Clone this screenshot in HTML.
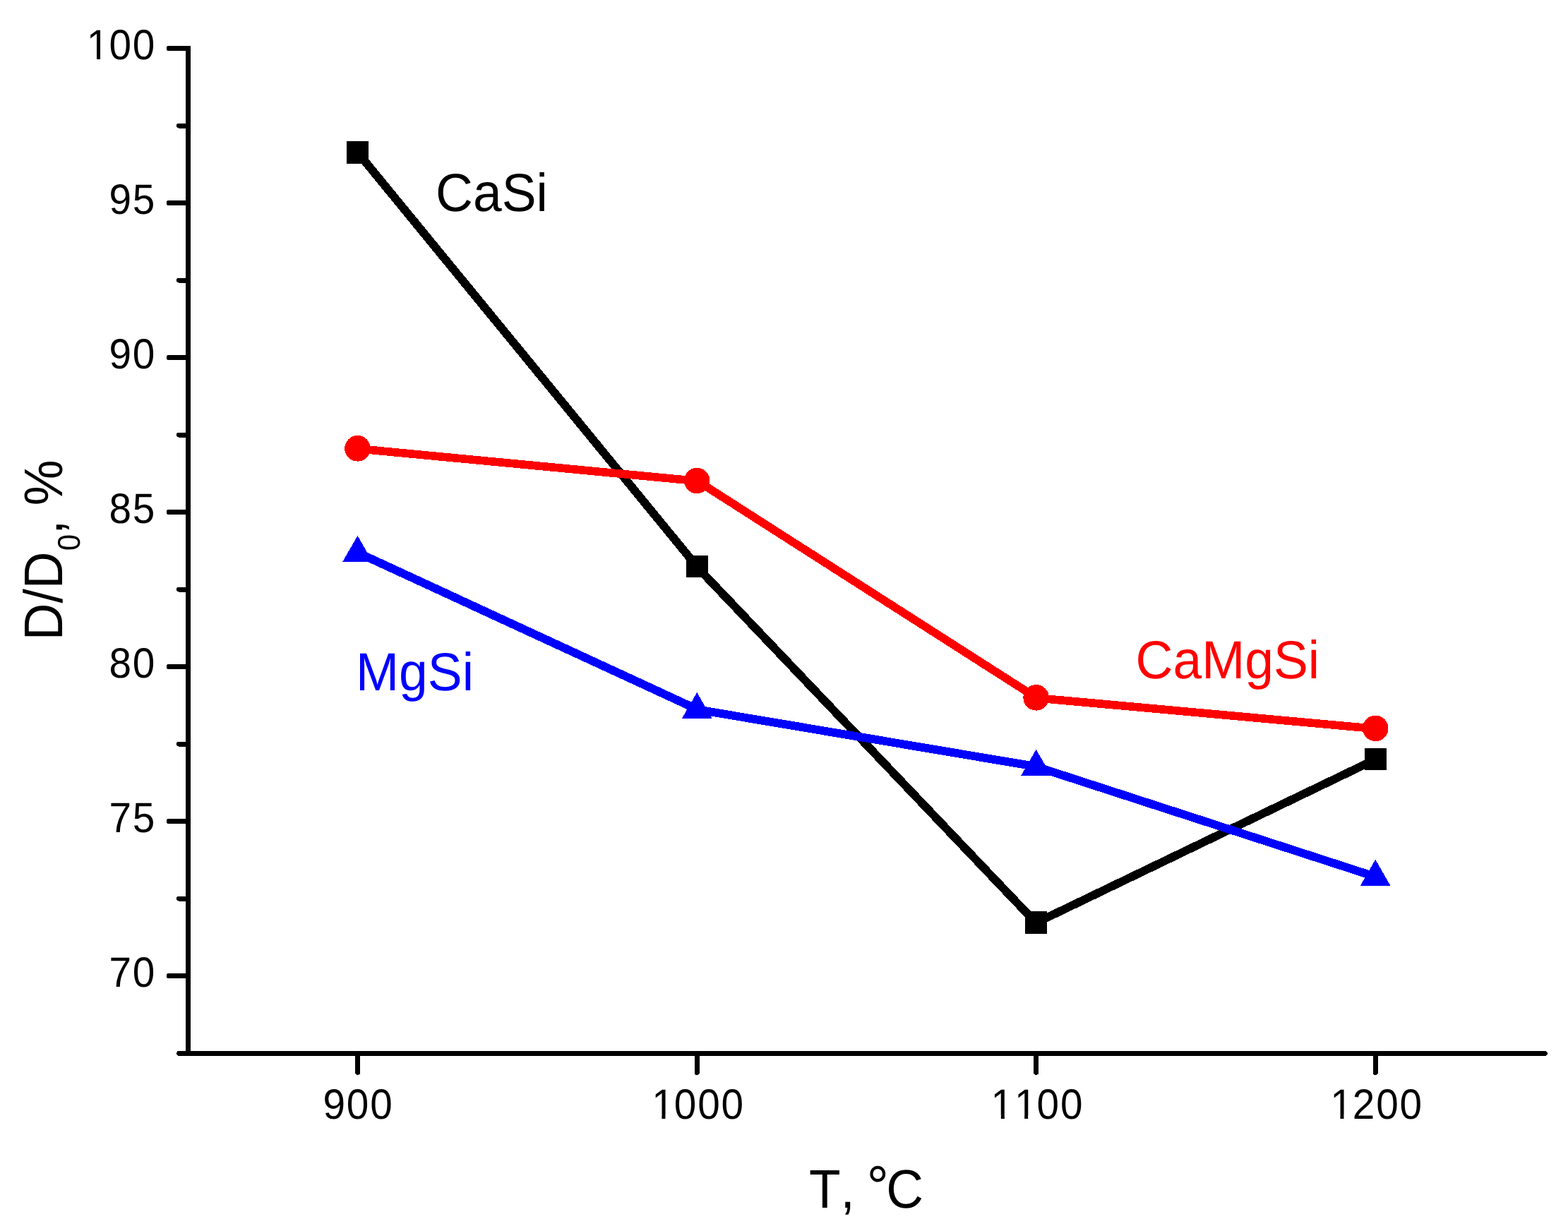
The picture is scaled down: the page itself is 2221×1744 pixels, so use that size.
<!DOCTYPE html>
<html lang="en"><head><meta charset="utf-8"><title>D/D0 vs T</title>
<style>
html,body{margin:0;padding:0;background:#fff;}
body{width:2221px;height:1744px;overflow:hidden;}
svg{display:block;}
line,polyline,rect,circle,polygon{shape-rendering:crispEdges;}
rect.m{fill:#fff;shape-rendering:geometricPrecision;}
text{font-family:"Liberation Sans",sans-serif;font-kerning:none;text-rendering:geometricPrecision;}
.tick{font-size:60px;fill:#000;}
.lab{font-size:76px;}
.ttl{font-size:77px;fill:#000;}
</style></head><body>
<svg width="2221" height="1744" viewBox="0 0 2221 1744">
<rect x="0" y="0" width="2221" height="1744" fill="#ffffff"/>
<g stroke="#000" fill="none" stroke-width="7" stroke-linecap="round">
<line x1="266.50" y1="65.10" x2="266.50" y2="1495.90" stroke-width="7" stroke-linecap="butt"/>
<line x1="253.60" y1="1492.40" x2="2188.20" y2="1492.40" stroke-width="7"/>
<line x1="239.30" y1="68.60" x2="266.50" y2="68.60"/>
<line x1="253.60" y1="178.10" x2="266.50" y2="178.10"/>
<line x1="239.30" y1="287.60" x2="266.50" y2="287.60"/>
<line x1="253.60" y1="397.10" x2="266.50" y2="397.10"/>
<line x1="239.30" y1="506.60" x2="266.50" y2="506.60"/>
<line x1="253.60" y1="616.10" x2="266.50" y2="616.10"/>
<line x1="239.30" y1="725.60" x2="266.50" y2="725.60"/>
<line x1="253.60" y1="835.10" x2="266.50" y2="835.10"/>
<line x1="239.30" y1="944.60" x2="266.50" y2="944.60"/>
<line x1="253.60" y1="1054.10" x2="266.50" y2="1054.10"/>
<line x1="239.30" y1="1163.60" x2="266.50" y2="1163.60"/>
<line x1="253.60" y1="1273.10" x2="266.50" y2="1273.10"/>
<line x1="239.30" y1="1382.60" x2="266.50" y2="1382.60"/>
<line x1="506.50" y1="1492.40" x2="506.50" y2="1519.40"/>
<line x1="987.20" y1="1492.40" x2="987.20" y2="1519.40"/>
<line x1="1467.60" y1="1492.40" x2="1467.60" y2="1519.40"/>
<line x1="1948.20" y1="1492.40" x2="1948.20" y2="1519.40"/>
</g>
<text class="tick" transform="translate(120.30 83.50) scale(0.9450 1)" x="2.63 36.17 71.41">100</text>
<rect class="m" x="126.10" y="78.42" width="10.94" height="5.88"/>
<rect class="m" x="142.05" y="78.42" width="10.50" height="5.88"/>
<text class="tick" transform="translate(153.60 302.50) scale(0.9450 1)" x="0.93 36.17">95</text>
<text class="tick" transform="translate(153.60 521.50) scale(0.9450 1)" x="0.93 36.17">90</text>
<text class="tick" transform="translate(153.60 740.50) scale(0.9450 1)" x="0.93 36.17">85</text>
<text class="tick" transform="translate(153.60 959.50) scale(0.9450 1)" x="0.93 36.17">80</text>
<text class="tick" transform="translate(153.60 1178.50) scale(0.9450 1)" x="0.93 36.17">75</text>
<text class="tick" transform="translate(153.60 1397.50) scale(0.9450 1)" x="0.93 36.17">70</text>
<text class="tick" transform="translate(456.65 1584.90) scale(0.9450 1)" x="0.93 36.17 71.41">900</text>
<text class="tick" transform="translate(920.70 1584.90) scale(0.9450 1)" x="2.63 36.17 71.41 106.65">1000</text>
<rect class="m" x="926.50" y="1579.82" width="10.94" height="5.88"/>
<rect class="m" x="942.45" y="1579.82" width="10.50" height="5.88"/>
<text class="tick" transform="translate(1401.10 1584.90) scale(0.9450 1)" x="2.63 37.87 71.41 106.65">1100</text>
<rect class="m" x="1406.90" y="1579.82" width="10.94" height="5.88"/>
<rect class="m" x="1422.85" y="1579.82" width="10.50" height="5.88"/>
<rect class="m" x="1440.20" y="1579.82" width="10.94" height="5.88"/>
<rect class="m" x="1456.15" y="1579.82" width="10.50" height="5.88"/>
<text class="tick" transform="translate(1881.70 1584.90) scale(0.9450 1)" x="2.63 36.17 71.41 106.65">1200</text>
<rect class="m" x="1887.50" y="1579.82" width="10.94" height="5.88"/>
<rect class="m" x="1903.45" y="1579.82" width="10.50" height="5.88"/>
<g stroke="#000000" stroke-width="11.8" stroke-linecap="butt" fill="none">
<line x1="506.50" y1="215.80" x2="987.20" y2="802.60"/>
<line x1="987.20" y1="803.10" x2="1467.60" y2="1307.40"/>
<line x1="1467.60" y1="1307.40" x2="1948.20" y2="1075.90"/>
</g>
<g stroke="#ff0000" stroke-width="11.6" stroke-linecap="butt" fill="none">
<line x1="506.50" y1="635.75" x2="987.20" y2="681.45"/>
<line x1="987.20" y1="681.00" x2="1467.60" y2="988.30"/>
<line x1="1467.60" y1="988.80" x2="1948.20" y2="1032.40"/>
</g>
<g stroke="#0000ff" stroke-width="11.8" stroke-linecap="butt" fill="none">
<line x1="506.50" y1="782.80" x2="987.20" y2="1004.80"/>
<line x1="987.20" y1="1005.20" x2="1467.60" y2="1086.00"/>
<line x1="1467.60" y1="1086.10" x2="1948.20" y2="1242.10"/>
</g>
<rect x="491.00" y="200.00" width="31.00" height="31.60" fill="#000000"/>
<rect x="971.70" y="786.80" width="31.00" height="31.60" fill="#000000"/>
<rect x="1452.10" y="1291.10" width="31.00" height="31.60" fill="#000000"/>
<rect x="1932.70" y="1059.60" width="31.00" height="31.60" fill="#000000"/>
<circle cx="506.50" cy="635.30" r="18.30" fill="#ff0000"/>
<circle cx="987.20" cy="681.00" r="18.30" fill="#ff0000"/>
<circle cx="1467.60" cy="988.30" r="18.30" fill="#ff0000"/>
<circle cx="1948.20" cy="1031.90" r="18.30" fill="#ff0000"/>
<polygon points="506.50,758.93 527.80,795.93 485.20,795.93" fill="#0000ff"/>
<polygon points="987.20,980.93 1008.50,1017.93 965.90,1017.93" fill="#0000ff"/>
<polygon points="1467.60,1061.73 1488.90,1098.73 1446.30,1098.73" fill="#0000ff"/>
<polygon points="1948.20,1217.73 1969.50,1254.73 1926.90,1254.73" fill="#0000ff"/>
<text class="lab" transform="translate(617.00 299.10) scale(0.9640 1)" fill="#000000">CaSi</text>
<text class="lab" transform="translate(504.00 977.90) scale(0.9640 1)" fill="#0000ff">MgSi</text>
<text class="lab" transform="translate(1608.50 961.00) scale(0.9640 1)" fill="#ff0000">CaMgSi</text>
<text class="ttl" transform="translate(1146.00 1710.90) scale(0.9480 1)">T, <tspan font-size="82" dx="-3.7" dy="-2">°</tspan><tspan dx="-3.7" dy="2">C</tspan></text>
<text class="ttl" transform="translate(87.90 907.30) rotate(-90) scale(0.9480 1)">D/D<tspan font-size="44.5" dx="1.3" dy="25.3">0</tspan><tspan dy="-25.3">, %</tspan></text>
</svg>
</body></html>
